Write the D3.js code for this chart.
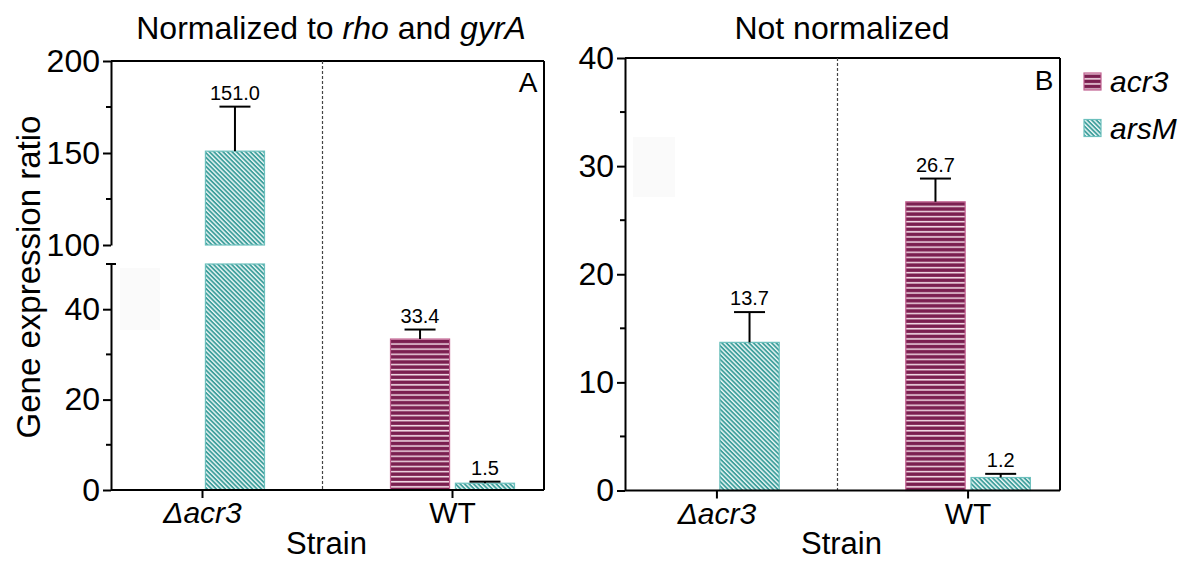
<!DOCTYPE html>
<html>
<head>
<meta charset="utf-8">
<script src="https://cdn.jsdelivr.net/npm/d3@7"></script>
<style>
  html, body { margin: 0; padding: 0; background: #fff; }
  svg { display: block; font-family: "Liberation Sans", Arial, Helvetica, sans-serif; }
</style>
</head>
<body>
<svg id="chart" width="1183" height="561"></svg>
<script>
// ---- data ----
const strains = ["\u0394acr3", "WT"];
const genes = ["acr3", "arsM"];

// Panel A: normalized to rho and gyrA (acr3 not detected in the deletion strain)
const normAcr3 = [null, 33.4];
const normAcr3Err = [null, 2.1];
const normArsM = [151.0, 1.5];
const normArsMErr = [24.2, 0.35];

// Panel B: not normalized
const rawAcr3 = [null, 26.7];
const rawAcr3Err = [null, 2.15];
const rawArsM = [13.7, 1.2];
const rawArsMErr = [2.8, 0.34];

// axis ticks
const normTicksHigh = [100, 150, 200];
const normMinorHigh = [125, 175];
const normTicksLow = [0, 20, 40];
const normMinorLow = [10, 30];
const rawTicks = [0, 10, 20, 30, 40];
const rawMinor = [5, 15, 25, 35];

const panelTitles = ["Normalized to ", "Not normalized"];
const yTitle = "Gene expression ratio";
const xTitle = "Strain";

// ---- styling ----
const colors = { acr3: "#7b1f50", arsM: "#3f9f9c" };
const borders = { acr3: "#c0608f", arsM: "#6cc0bd" };
const TICK_FONT = 32;

const svg = d3.select("#chart");
const defs = svg.append("defs");

// horizontal stripes for acr3
const pH = defs.append("pattern")
  .attr("id", "pat-acr3").attr("patternUnits", "userSpaceOnUse")
  .attr("width", 8).attr("height", 5.1);
pH.append("rect").attr("width", 8).attr("height", 5.1).attr("fill", colors.acr3);
pH.append("rect").attr("y", 1.6).attr("width", 8).attr("height", 1.5).attr("fill", "#f3dbe6");

// diagonal stripes for arsM
const pD = defs.append("pattern")
  .attr("id", "pat-arsM").attr("patternUnits", "userSpaceOnUse")
  .attr("width", 3.2).attr("height", 8)
  .attr("patternTransform", "rotate(-45)");
pD.append("rect").attr("width", 3.2).attr("height", 8).attr("fill", colors.arsM);
pD.append("rect").attr("x", 0).attr("width", 1.4).attr("height", 8).attr("fill", "#eaf7f6");

const fillOf = g => `url(#pat-${g})`;

// ---- shared helpers ----
function minorTicks(g, scale, values, x0) {
  g.selectAll(null).data(values).join("line")
    .attr("x1", x0 - 5).attr("x2", x0)
    .attr("y1", d => scale(d)).attr("y2", d => scale(d))
    .attr("stroke", "#000").attr("stroke-width", 2);
}

function styleAxis(sel, size) {
  sel.selectAll("path.domain").attr("stroke", "#000").attr("stroke-width", 2);
  sel.selectAll(".tick line").attr("stroke", "#000").attr("stroke-width", 2);
  sel.selectAll(".tick text").attr("font-size", size).attr("fill", "#000")
    .attr("font-family", "'Liberation Sans', Arial, sans-serif");
}

function drawPanel(cfg) {
  const { left, right, top, bottom } = cfg;
  const g = svg.append("g");

  // category bands and series bands within each group
  const x = d3.scaleBand().domain(strains).range([left, right])
    .paddingInner(0.504).paddingOuter(0.118);
  const xs = d3.scaleBand().domain(genes).range([0, x.bandwidth()]).paddingInner(0.09);

  // faint background blotch
  g.append("rect").attr("x", cfg.blot[0]).attr("y", cfg.blot[1])
    .attr("width", cfg.blot[2]).attr("height", cfg.blot[3]).attr("fill", "#fafafa");

  // frame: top and right
  g.append("line").attr("x1", left).attr("x2", right).attr("y1", top).attr("y2", top)
    .attr("stroke", "#000").attr("stroke-width", 2);
  g.append("line").attr("x1", right).attr("x2", right).attr("y1", top).attr("y2", bottom)
    .attr("stroke", "#000").attr("stroke-width", 2);

  // dashed divider between strains
  const xDiv = (x(strains[0]) + x.bandwidth() + x(strains[1])) / 2 - 5;
  g.append("line").attr("x1", xDiv).attr("x2", xDiv).attr("y1", top).attr("y2", bottom)
    .attr("stroke", "#444").attr("stroke-width", 1.2).attr("stroke-dasharray", "3,2");

  // bars
  const series = [
    { gene: "acr3", vals: cfg.acr3, errs: cfg.acr3Err },
    { gene: "arsM", vals: cfg.arsM, errs: cfg.arsMErr }
  ];
  const items = [];
  series.forEach(s => strains.forEach((st, i) => {
    if (s.vals[i] != null) items.push({ gene: s.gene, strain: st, v: s.vals[i], e: s.errs[i] });
  }));

  items.forEach(d => {
    const bx = x(d.strain) + xs(d.gene);
    const bw = xs.bandwidth();
    cfg.segments(d.v).forEach(seg => {
      g.append("rect")
        .attr("x", bx).attr("y", seg.y1).attr("width", bw).attr("height", seg.y0 - seg.y1)
        .attr("fill", fillOf(d.gene)).attr("stroke", borders[d.gene]).attr("stroke-width", 1.2);
    });
    const cx = bx + bw / 2;
    const yTop = cfg.yOf(d.v), yErr = cfg.yOf(d.v + d.e);
    g.append("line").attr("x1", cx).attr("x2", cx).attr("y1", yTop).attr("y2", yErr)
      .attr("stroke", "#000").attr("stroke-width", 2);
    g.append("line").attr("x1", cx - 15.5).attr("x2", cx + 15.5).attr("y1", yErr).attr("y2", yErr)
      .attr("stroke", "#000").attr("stroke-width", 2);
    g.append("text").attr("x", cx).attr("y", yErr - 7).attr("text-anchor", "middle")
      .attr("font-size", 20).text(d.v.toFixed(1));
  });

  // x axis
  const xa = g.append("g").attr("transform", `translate(0,${bottom})`)
    .call(d3.axisBottom(x).tickSize(8).tickSizeOuter(0).tickPadding(12));
  styleAxis(xa, 30);
  xa.select("path.domain").attr("d", `M${left},0H${right}`);
  xa.selectAll(".tick text").attr("font-style", d => d === "WT" ? "normal" : "italic")
    .attr("dy", "0.71em").attr("y", 12);

  // axis title
  g.append("text").attr("x", (left + right) / 2 - 1).attr("y", 554)
    .attr("text-anchor", "middle").attr("font-size", 31).text(xTitle);

  return { g, x };
}

// ---- Panel A (broken y axis) ----
const A = { left: 111, right: 544, top: 61, bottom: 490 };
const yLow = d3.scaleLinear().domain([0, 50]).range([490, 264]);
const yHigh = d3.scaleLinear().domain([100, 200]).range([245, 61]);
const yA = v => (v <= 50 ? yLow(v) : yHigh(v));

const pa = drawPanel(Object.assign({}, A, {
  acr3: normAcr3, acr3Err: normAcr3Err, arsM: normArsM, arsMErr: normArsMErr,
  yOf: yA,
  blot: [120, 268, 40, 62],
  segments: v => v <= 50
    ? [{ y0: yLow(0), y1: yLow(v) }]
    : [{ y0: yLow(0), y1: yLow(50) }, { y0: yHigh(100), y1: yHigh(v) }]
}));

const ayHigh = pa.g.append("g").attr("transform", `translate(${A.left},0)`)
  .call(d3.axisLeft(yHigh).tickValues(normTicksHigh).tickSize(8).tickSizeOuter(0).tickPadding(3));
styleAxis(ayHigh, TICK_FONT);
minorTicks(pa.g, yHigh, normMinorHigh, A.left);

const ayLow = pa.g.append("g").attr("transform", `translate(${A.left},0)`)
  .call(d3.axisLeft(yLow).tickValues(normTicksLow).tickSize(8).tickSizeOuter(0).tickPadding(3));
styleAxis(ayLow, TICK_FONT);
minorTicks(pa.g, yLow, normMinorLow, A.left);
// cap at the top of the lower segment
pa.g.append("line").attr("x1", A.left - 5).attr("x2", A.left + 5)
  .attr("y1", yLow(50)).attr("y2", yLow(50)).attr("stroke", "#000").attr("stroke-width", 2);

// ---- Panel B ----
const B = { left: 625, right: 1060, top: 58, bottom: 490.5 };
const yB = d3.scaleLinear().domain([0, 40]).range([B.bottom, B.top]);
const pb = drawPanel(Object.assign({}, B, {
  acr3: rawAcr3, acr3Err: rawAcr3Err, arsM: rawArsM, arsMErr: rawArsMErr,
  yOf: yB,
  blot: [633, 137, 42, 60],
  segments: v => [{ y0: yB(0), y1: yB(v) }]
}));
const ayB = pb.g.append("g").attr("transform", `translate(${B.left},0)`)
  .call(d3.axisLeft(yB).tickValues(rawTicks).tickSize(8).tickSizeOuter(0).tickPadding(3));
styleAxis(ayB, TICK_FONT);
minorTicks(pb.g, yB, rawMinor, B.left);

// ---- titles, panel letters ----
const tA = svg.append("text").attr("x", 331).attr("y", 39).attr("text-anchor", "middle").attr("font-size", 32);
tA.append("tspan").text(panelTitles[0]);
tA.append("tspan").attr("font-style", "italic").text("rho");
tA.append("tspan").text(" and ");
tA.append("tspan").attr("font-style", "italic").text("gyrA");
svg.append("text").attr("x", 842).attr("y", 39).attr("text-anchor", "middle").attr("font-size", 32)
  .text(panelTitles[1]);

svg.append("text").attr("x", 528).attr("y", 92).attr("text-anchor", "middle").attr("font-size", 28).text("A");
svg.append("text").attr("x", 1044).attr("y", 90).attr("text-anchor", "middle").attr("font-size", 28).text("B");

svg.append("text").attr("transform", "translate(40,277) rotate(-90)")
  .attr("text-anchor", "middle").attr("font-size", 33).text(yTitle);

// ---- legend ----
const leg = svg.append("g");
genes.forEach((gname, i) => {
  const y0 = 73 + i * 46.5;
  leg.append("rect").attr("x", 1084).attr("y", y0).attr("width", 17).attr("height", 17)
    .attr("fill", fillOf(gname)).attr("stroke", borders[gname]).attr("stroke-width", 1.2);
  leg.append("text").attr("x", 1110).attr("y", y0 + 19).attr("font-size", 30)
    .attr("font-style", "italic").text(gname);
});
</script>
</body>
</html>
